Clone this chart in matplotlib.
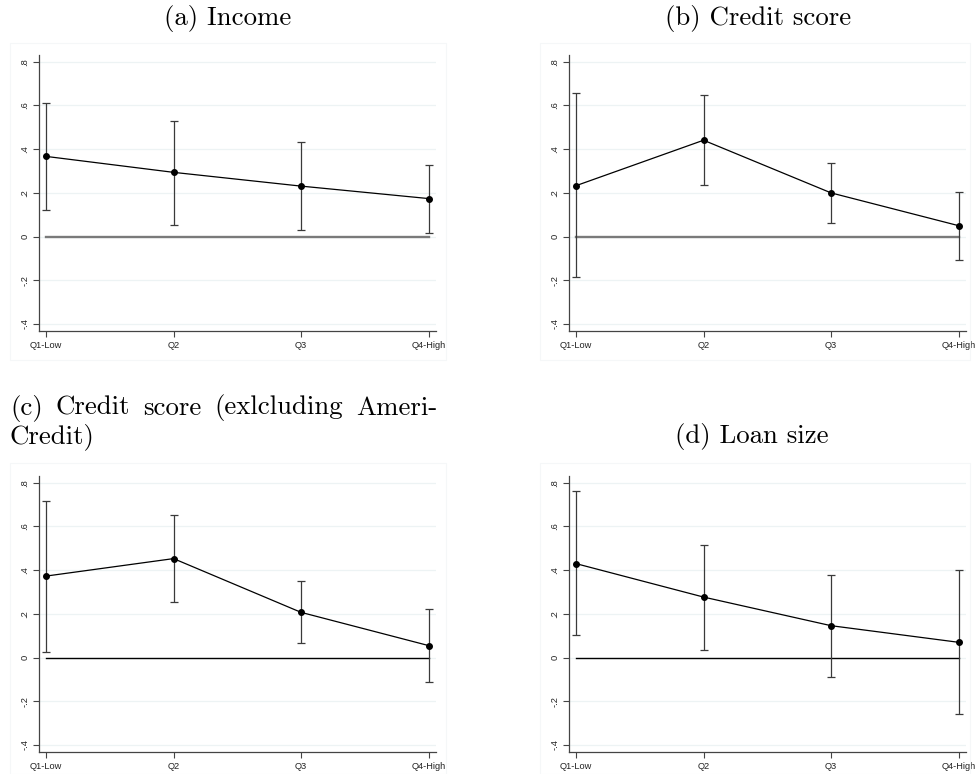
"""Four-panel point estimates with confidence intervals by quartile."""

import matplotlib
matplotlib.use("Agg")
import matplotlib.pyplot as plt
from matplotlib.patches import Rectangle

QUARTILES = ["Q1-Low", "Q2", "Q3", "Q4-High"]
Y_TICKS = [-0.4, -0.2, 0.0, 0.2, 0.4, 0.6, 0.8]
Y_TICK_LABELS = ["-.4", "-.2", "0", ".2", ".4", ".6", ".8"]

income_est = [0.367, 0.294, 0.231, 0.174]
income_lo = [0.122, 0.055, 0.032, 0.017]
income_hi = [0.613, 0.531, 0.434, 0.327]

credit_est = [0.233, 0.441, 0.200, 0.050]
credit_lo = [-0.185, 0.237, 0.063, -0.105]
credit_hi = [0.659, 0.647, 0.335, 0.204]

credit_ex_est = [0.373, 0.453, 0.207, 0.055]
credit_ex_lo = [0.024, 0.256, 0.065, -0.111]
credit_ex_hi = [0.717, 0.653, 0.350, 0.222]

loan_est = [0.430, 0.277, 0.146, 0.070]
loan_lo = [0.105, 0.037, -0.087, -0.256]
loan_hi = [0.763, 0.517, 0.380, 0.400]

W, H = 979, 774
SERIF = "cmr10"
TICK_FONT = "Liberation Sans"


def _ax_rect(left, top, right, bottom):
    return [left / W, 1 - bottom / H, (right - left) / W, (bottom - top) / H]


def _draw_panel(fig, rect, est, lo, hi, zero_color, zero_lw):
    ax = fig.add_axes(rect)
    x = list(range(len(QUARTILES)))
    ax.set_xlim(-0.055, 3.058)
    ax.set_ylim(-0.432, 0.831)

    for y in Y_TICKS:
        ax.axhline(y, color="#edf3f4", lw=0.9, zorder=0)

    ax.plot([x[0], x[-1]], [0, 0], color=zero_color, lw=zero_lw, zorder=1)
    yerr = [[e - l for e, l in zip(est, lo)], [h - e for e, h in zip(est, hi)]]
    ax.errorbar(x, est, yerr=yerr, fmt="none", ecolor="#3a3a3a", elinewidth=0.9,
                capsize=2.6, capthick=0.9, zorder=2)
    ax.plot(x, est, color="black", lw=0.9, marker="o", markersize=4.0, zorder=3)

    ax.set_xticks(x)
    ax.set_xticklabels(QUARTILES, fontsize=6.7, family=TICK_FONT, color="#222222")
    ax.set_yticks(Y_TICKS)
    ax.set_yticklabels(Y_TICK_LABELS, fontsize=6.7, family=TICK_FONT,
                       color="#222222", rotation=90, va="center")
    ax.tick_params(axis="both", direction="out", length=4, width=0.8,
                   color="#444444", pad=3)
    for side in ("top", "right"):
        ax.spines[side].set_visible(False)
    for side in ("left", "bottom"):
        ax.spines[side].set_color("#444444")
        ax.spines[side].set_linewidth(0.9)
    return ax


def _justify_line(fig, words, left, right, y, size):
    renderer = fig.canvas.get_renderer()
    texts = [fig.text(0, 0, w, fontsize=size, family=SERIF, va="center",
                      ha="left", transform=None) for w in words]
    widths = [t.get_window_extent(renderer).width for t in texts]
    gap = (right - left - sum(widths)) / (len(words) - 1)
    pos = left
    for t, w in zip(texts, widths):
        t.set_position((pos, H - y))
        pos += w + gap


fig = plt.figure(figsize=(W / 100, H / 100), dpi=100)

for box in [(10, 43, 446, 360), (540, 43, 970, 360),
            (10, 463, 446, 774), (540, 463, 970, 774)]:
    l, t, r, b = box
    fig.patches.append(Rectangle((l / W, 1 - b / H), (r - l) / W, (b - t) / H,
                                 transform=fig.transFigure, fill=False,
                                 edgecolor="#f5f7f8", lw=0.8))

_draw_panel(fig, _ax_rect(39, 55, 436, 331), income_est, income_lo, income_hi, "#7a7a7a", 1.7)
_draw_panel(fig, _ax_rect(569, 55, 966, 331), credit_est, credit_lo, credit_hi, "#7a7a7a", 1.7)
_draw_panel(fig, _ax_rect(39, 476, 436, 752), credit_ex_est, credit_ex_lo, credit_ex_hi, "black", 1.0)
_draw_panel(fig, _ax_rect(569, 476, 966, 752), loan_est, loan_lo, loan_hi, "black", 1.0)

TITLE_SIZE = 19.3
fig.text(228 / W, 1 - 18 / H, "(a) Income", fontsize=TITLE_SIZE, family=SERIF,
         ha="center", va="center")
fig.text(758 / W, 1 - 18 / H, "(b) Credit score", fontsize=TITLE_SIZE, family=SERIF,
         ha="center", va="center")
fig.text(752 / W, 1 - 437 / H, "(d) Loan size", fontsize=TITLE_SIZE, family=SERIF,
         ha="center", va="center")
_justify_line(fig, ["(c)", "Credit", "score", "(exlcluding", "Ameri-"], 10, 437, 408, TITLE_SIZE)
fig.text(10 / W, 1 - 437 / H, "Credit)", fontsize=TITLE_SIZE, family=SERIF,
         ha="left", va="center")

fig.savefig("out.png", dpi=100)
